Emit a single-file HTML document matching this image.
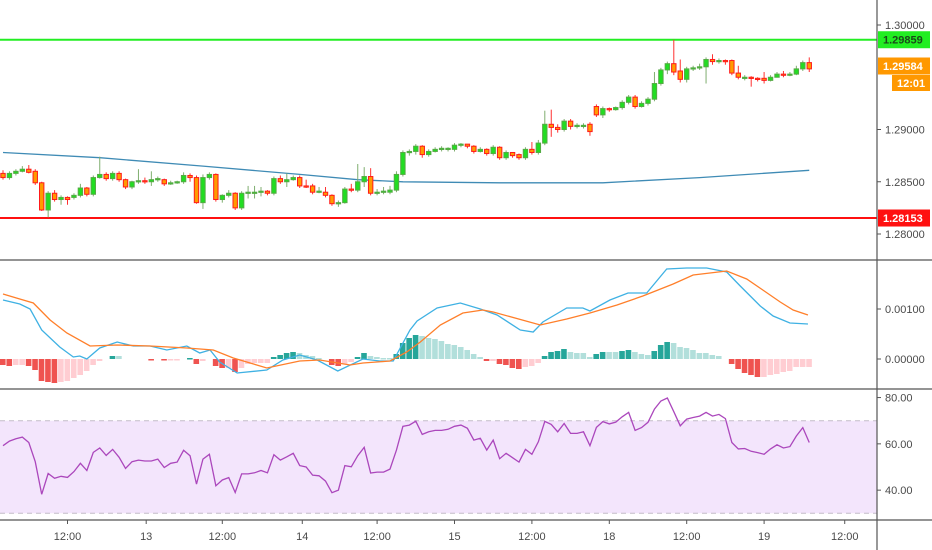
<!DOCTYPE html>
<html><head><meta charset="utf-8"><style>
html,body{margin:0;padding:0;background:#fff;}
svg{display:block;font-family:"Liberation Sans",sans-serif;}
</style></head><body>
<svg id="chart" width="932" height="550" viewBox="0 0 932 550" xmlns="http://www.w3.org/2000/svg">
<defs><clipPath id="plotclip"><rect x="0" y="0" width="877" height="520"/></clipPath></defs>
<g id="plot" clip-path="url(#plotclip)"></g>
<g id="axes"></g>
</svg>
<script>
// ---- price data (hourly candles) ----
const opens = [1.2858,1.2854,1.2858,1.2860,1.2862,1.2860,1.2849,1.2823,1.2839,1.2833,1.2835,1.2835,1.2837,1.2844,1.2838,1.2854,1.2857,1.2853,1.2858,1.2852,1.2845,1.2850,1.2851,1.2850,1.2852,1.2852,1.2848,1.2849,1.2850,1.2856,1.2854,1.2830,1.2854,1.2857,1.2833,1.2837,1.2839,1.2825,1.2839,1.2839,1.2840,1.2841,1.2839,1.2853,1.2850,1.2852,1.2854,1.2846,1.2846,1.2840,1.2840,1.2837,1.2829,1.2830,1.2843,1.2842,1.2850,1.2855,1.2839,1.2840,1.2840,1.2842,1.2857,1.2878,1.2879,1.2884,1.2876,1.2879,1.2881,1.2881,1.2881,1.2885,1.2886,1.2884,1.2879,1.2881,1.2877,1.2883,1.2873,1.2878,1.2876,1.2873,1.2881,1.2878,1.2887,1.2905,1.2902,1.2900,1.2908,1.2903,1.2903,1.2905,1.2922,1.2914,1.2920,1.2919,1.2921,1.2926,1.2931,1.2922,1.2925,1.2929,1.2944,1.2957,1.2963,1.2956,1.2948,1.2958,1.2959,1.2960,1.2967,1.2965,1.2966,1.2966,1.2954,1.2949,1.2950,1.2949,1.2949,1.2947,1.2950,1.2953,1.2952,1.2953,1.2958,1.2964];
const closes = [1.2854,1.2858,1.2860,1.2862,1.2859,1.2849,1.2823,1.2839,1.2833,1.2835,1.2833,1.2837,1.2844,1.2838,1.2854,1.2857,1.2853,1.2858,1.2852,1.2845,1.2850,1.2851,1.2850,1.2852,1.2853,1.2848,1.2849,1.2850,1.2856,1.2854,1.2830,1.2854,1.2857,1.2833,1.2837,1.2839,1.2825,1.2839,1.2840,1.2840,1.2841,1.2839,1.2853,1.2850,1.2852,1.2854,1.2846,1.2845,1.2840,1.2841,1.2837,1.2829,1.2830,1.2843,1.2842,1.2850,1.2855,1.2839,1.2840,1.2841,1.2842,1.2857,1.2878,1.2879,1.2884,1.2876,1.2879,1.2881,1.2882,1.2882,1.2885,1.2886,1.2884,1.2879,1.2881,1.2877,1.2883,1.2873,1.2878,1.2875,1.2873,1.2881,1.2878,1.2887,1.2905,1.2902,1.2900,1.2908,1.2903,1.2904,1.2904,1.2898,1.2914,1.2920,1.2919,1.2921,1.2926,1.2931,1.2922,1.2925,1.2929,1.2944,1.2957,1.2963,1.2955,1.2948,1.2958,1.2959,1.2960,1.2967,1.2965,1.2966,1.2965,1.2954,1.2950,1.2950,1.2949,1.2948,1.2947,1.2950,1.2953,1.2952,1.2953,1.2958,1.2964,1.2958];
const highs = [1.2861,1.2860,1.2862,1.2865,1.2866,1.2862,1.2850,1.2841,1.2842,1.2837,1.2836,1.2839,1.2848,1.2845,1.2856,1.2874,1.2859,1.2860,1.2860,1.2853,1.2851,1.2862,1.2854,1.2860,1.2855,1.2853,1.2851,1.2851,1.2859,1.2858,1.2856,1.2857,1.2859,1.2858,1.2838,1.2842,1.2840,1.2841,1.2846,1.2846,1.2845,1.2842,1.2855,1.2856,1.2858,1.2856,1.2856,1.2852,1.2848,1.2845,1.2845,1.2838,1.2832,1.2845,1.2848,1.2867,1.2864,1.2863,1.2843,1.2845,1.2846,1.2860,1.2880,1.2881,1.2886,1.2885,1.2881,1.2883,1.2884,1.2883,1.2887,1.2887,1.2886,1.2885,1.2883,1.2882,1.2885,1.2884,1.2880,1.2878,1.2877,1.2883,1.2888,1.2890,1.2918,1.2919,1.2905,1.2910,1.2910,1.2906,1.2906,1.2907,1.2924,1.2922,1.2921,1.2922,1.2928,1.2933,1.2933,1.2927,1.2931,1.2955,1.2959,1.2965,1.2986,1.2967,1.2960,1.2961,1.2963,1.2969,1.2972,1.2968,1.2967,1.2967,1.2961,1.2952,1.2951,1.2950,1.2955,1.2952,1.2955,1.2956,1.2955,1.2961,1.2966,1.2969];
const lows = [1.2852,1.2852,1.2856,1.2859,1.2858,1.2847,1.2822,1.2816,1.2831,1.2828,1.2828,1.2833,1.2835,1.2836,1.2836,1.2853,1.2851,1.2851,1.2850,1.2843,1.2843,1.2848,1.2848,1.2846,1.2850,1.2846,1.2847,1.2848,1.2848,1.2850,1.2829,1.2824,1.2852,1.2831,1.2830,1.2835,1.2823,1.2823,1.2834,1.2834,1.2836,1.2837,1.2837,1.2848,1.2845,1.2851,1.2844,1.2844,1.2838,1.2839,1.2835,1.2827,1.2826,1.2829,1.2840,1.2840,1.2845,1.2837,1.2837,1.2838,1.2838,1.2840,1.2855,1.2875,1.2876,1.2873,1.2874,1.2878,1.2879,1.2879,1.2879,1.2883,1.2882,1.2877,1.2878,1.2875,1.2875,1.2871,1.2871,1.2873,1.2871,1.2871,1.2876,1.2876,1.2885,1.2893,1.2897,1.2898,1.2900,1.2901,1.2901,1.2894,1.2912,1.2911,1.2917,1.2918,1.2919,1.2924,1.2920,1.2921,1.2923,1.2927,1.2942,1.2953,1.2952,1.2945,1.2945,1.2956,1.2957,1.2944,1.2962,1.2963,1.2962,1.2952,1.2948,1.2947,1.2941,1.2946,1.2944,1.2946,1.2950,1.2950,1.2951,1.2952,1.2956,1.2955];
// moving average samples (candle index, value)
const maIdx = [0,15,31,46,55,62,77,93,108,125];
const maVals = [1.2878,1.2873,1.2865,1.2857,1.2852,1.2850,1.2849,1.2849,1.2854,1.2861];
const resistanceLevel = 1.29859;
const supportLevel = 1.28153;
const lastPrice = 1.29584;
const priceTicks = [1.30, 1.29, 1.285, 1.28];
const priceTickLabels = ["1.30000","1.29000","1.28500","1.28000"];
// ---- MACD ----
const macdHist = [-0.00012,-0.00014,-0.00012,-0.00012,-0.00014,-0.00022,-0.00044,-0.00046,-0.00048,-0.00046,-0.00044,-0.00038,-0.00032,-0.00024,-0.00012,-0.00004,0,0.00006,0.00006,0,0,0,0,-0.00002,0,-0.00002,-0.00002,-0.00002,0,0.00002,-0.0001,-0.00004,0,-0.00014,-0.00018,-0.00018,-0.00026,-0.00018,-0.0001,-0.00008,-0.00008,-0.00008,0.00004,0.00008,0.00012,0.00014,0.00012,0.00008,0.00006,0.00002,0,-0.00012,-0.00014,-0.0001,-0.00006,0.00004,0.00012,0.00006,0.00004,0.00002,0.00002,0.0001,0.00032,0.00042,0.00048,0.00046,0.00042,0.0004,0.00036,0.0003,0.00028,0.00024,0.00018,0.0001,0.00004,-0.00004,-0.00004,-0.0001,-0.00012,-0.00018,-0.0002,-0.00016,-0.00014,-0.00008,0.00006,0.00014,0.00016,0.0002,0.00014,0.00012,0.00012,0.00004,0.0001,0.00014,0.00014,0.00014,0.00016,0.00018,0.00014,0.0001,0.00008,0.00016,0.00028,0.00034,0.00032,0.00024,0.00022,0.00018,0.00012,0.00012,0.00008,0.00006,0,-0.0001,-0.0002,-0.00028,-0.00032,-0.00036,-0.00036,-0.00032,-0.0003,-0.00026,-0.00024,-0.00016,-0.00016,-0.00016];
const macdIdx = [0,2.6,4.2,6,8.8,10.9,11.9,13,15,17.7,20.2,22.8,25.4,28.5,30.5,32.1,33.6,36.3,40.9,43.4,46,48.7,51.9,55.8,58.4,60.5,63.1,64.2,67.3,70.9,74,76.6,80.2,82.2,83.7,87.4,89.9,91,94.1,96.9,99.8,102.9,106,109.1,112.2,114.3,117.4,119.4,122,124.8];
const macdVals = [0.00118,0.0011,0.001,0.00058,0.00024,0.00004,0.00006,0,0.00022,0.00034,0.00026,0.00026,0.00018,0.00026,0.00012,0.00018,-0.00006,-0.00028,-0.00022,-0.00002,0.00008,-0.00002,-0.00024,0,-0.00004,-0.00004,0.00058,0.00076,0.00102,0.00112,0.001,0.00088,0.00058,0.00054,0.00074,0.00102,0.00102,0.00096,0.00118,0.00132,0.00132,0.0018,0.00182,0.00182,0.00174,0.00146,0.00106,0.00086,0.00072,0.0007];
const signalIdx = [0,2.6,4.7,7.3,9.9,13.5,17.7,22.8,28.5,32.6,35.7,40.9,46,49.1,53.8,55.8,60,62.6,64.7,67.8,71.3,74.4,76,83.3,87.4,91,95.2,99.2,103.9,107,112.2,115.3,117.8,120.5,122.5,124.8];
const signalVals = [0.0013,0.0012,0.00112,0.00078,0.00052,0.00026,0.00028,0.00026,0.00022,0.00018,0.00002,-0.00018,-0.00004,-0.00002,-0.00012,-0.00008,-0.00004,0.00014,0.00034,0.00068,0.00092,0.00098,0.00094,0.00068,0.0008,0.00092,0.00108,0.00126,0.0015,0.00168,0.00176,0.0016,0.00138,0.00114,0.00098,0.00088];
const macdTicks = [0.001, 0];
const macdTickLabels = ["0.00100","0.00000"];
// ---- RSI ----
const rsiVals = [59.2,61.2,62.2,62.9,60.6,52.3,38.2,47.2,45.1,46.0,45.5,48.0,51.6,48.5,56.3,58.2,55.0,57.6,54.2,49.4,52.3,53.0,52.6,52.6,53.4,49.8,51.6,52.1,57.2,54.9,42.6,53.4,55.5,41.9,44.4,45.4,39.0,47.0,47.0,47.5,48.5,47.5,55.3,53.0,54.4,55.9,50.6,50.0,46.5,46.2,43.9,38.9,40.0,50.6,50.1,54.9,58.5,47.4,47.8,47.8,49.1,57.3,67.6,68.1,69.8,64.1,65.2,65.8,65.8,66.3,67.6,68.1,66.7,61.6,62.4,57.3,61.6,53.6,55.9,54.0,52.1,57.6,55.5,60.9,69.7,68.4,65.2,68.8,64.5,64.5,65.2,59.2,67.1,69.6,68.6,69.4,71.7,73.6,65.8,67.0,69.3,75.0,78.5,79.8,73.9,67.8,70.7,71.4,72.0,73.6,72.0,72.7,70.9,60.6,57.8,58.0,56.8,56.2,55.5,57.8,59.6,58.2,58.8,63.4,67.0,60.6];
const rsiTicks = [80, 60, 40];
const rsiTickLabels = ["80.00","60.00","40.00"];
const rsiBand = [70, 30];
// ---- time axis ----
const timeLabels = ["12:00","13","12:00","14","12:00","15","12:00","18","12:00","19","12:00"];
const timeLabelIdx = [10,22.2,34,46.4,58,70,82,94,106,118,130.5];

// ---- axis functions ----
const xOf = i => 3 + i * 6.45;
const yPrice = p => 25 + (1.30 - p) * 10450;
const yMacd = v => 359 - v * 50000;
const yRsi = v => 420.7 + (70 - v) * 2.315;

const NS = "http://www.w3.org/2000/svg";
const plot = document.getElementById('plot');
const axes = document.getElementById('axes');
function mk(tag, attrs, parent) {
  const el = document.createElementNS(NS, tag);
  for (const k in attrs) el.setAttribute(k, attrs[k]);
  parent.appendChild(el);
  return el;
}

// RSI band background
const bandY1 = yRsi(rsiBand[0]), bandY2 = yRsi(rsiBand[1]);
let band = mk('rect', {x:0, y:bandY1, width:877, height:bandY2-bandY1, fill:'#f3e5fc'}, plot);


rsiBand.forEach(v => {
  let l = mk('line', {x1:0, x2:877, y1:yRsi(v), y2:yRsi(v), stroke:'#c4bcc8', 'stroke-width':1, 'stroke-dasharray':'5,4'}, plot);
  
  
});

// MA line
let maPts = maIdx.map((i, k) => xOf(i) + ',' + yPrice(maVals[k]).toFixed(1)).join(' ');
let ma = mk('polyline', {points: maPts, fill:'none', stroke:'#3f8bb5', 'stroke-width':1.3}, plot);



// level lines
let res = mk('line', {x1:0, x2:877, y1:yPrice(resistanceLevel), y2:yPrice(resistanceLevel), stroke:'#22ee22', 'stroke-width':2}, plot);


let sup = mk('line', {x1:0, x2:877, y1:yPrice(supportLevel), y2:yPrice(supportLevel), stroke:'#ff1010', 'stroke-width':2}, plot);



// candles
for (let i = 0; i < closes.length; i++) {
  const up = closes[i] >= opens[i];
  const x = xOf(i);
  const g = mk('g', {}, plot);
  
  
  mk('line', {x1:x, x2:x, y1:yPrice(highs[i]), y2:yPrice(lows[i]), stroke: up ? '#7fae6f' : '#ff3030', 'stroke-width':1}, g);
  const yt = yPrice(Math.max(opens[i], closes[i]));
  const yb = yPrice(Math.min(opens[i], closes[i]));
  mk('rect', {x:x-2.2, y:yt, width:4.4, height:Math.max(1.2, yb-yt), fill: up ? '#22dd22' : '#ff9a00', stroke: up ? '#55aa44' : '#ff1a1a', 'stroke-width':1}, g);
}

// MACD histogram
for (let i = 0; i < macdHist.length; i++) {
  const v = macdHist[i], prev = i > 0 ? macdHist[i-1] : 0;
  if (v === 0) continue;
  let col;
  if (v > 0) col = v > prev ? '#26a69a' : '#b2dfdb';
  else col = v < prev ? '#ef5350' : '#ffcdd2';
  const y0 = yMacd(0), y1 = yMacd(v);
  const r = mk('rect', {x:xOf(i)-3, y:Math.min(y0,y1), width:5.6, height:Math.max(1.5, Math.abs(y1-y0)), fill:col}, plot);
  
  
}
let macdLine = mk('polyline', {points: macdIdx.map((i,k)=>xOf(i)+','+yMacd(macdVals[k]).toFixed(1)).join(' '), fill:'none', stroke:'#3fb1e3', 'stroke-width':1.3}, plot);


let sigLine = mk('polyline', {points: signalIdx.map((i,k)=>xOf(i)+','+yMacd(signalVals[k]).toFixed(1)).join(' '), fill:'none', stroke:'#ff7f2a', 'stroke-width':1.3}, plot);



// RSI line
let rsiLine = mk('polyline', {points: rsiVals.map((v,i)=>xOf(i)+','+yRsi(v).toFixed(1)).join(' '), fill:'none', stroke:'#ab47bc', 'stroke-width':1.3}, plot);



// separators & axis
[[0,260,932,260],[0,389,932,389],[0,520,932,520],[877,0,877,550]].forEach(s => {
  let l = mk('line', {x1:s[0], y1:s[1], x2:s[2], y2:s[3], stroke:'#555', 'stroke-width':1.2}, axes);
  
  
});

function yLabel(text, y, name) {
  mk('line', {x1:877, x2:881, y1:y, y2:y, stroke:'#555', 'stroke-width':1}, axes);
  const t = mk('text', {x:885, y:y+4, 'font-size':11, fill:'#4a4a4a'}, axes);
  t.textContent = text;
  
  
}
priceTicks.forEach((p,k) => yLabel(priceTickLabels[k], yPrice(p), 'price-tick-label'));
macdTicks.forEach((v,k) => yLabel(macdTickLabels[k], yMacd(v), 'macd-tick-label'));
rsiTicks.forEach((v,k) => yLabel(rsiTickLabels[k], yRsi(v), 'rsi-tick-label'));

timeLabels.forEach((s,k) => {
  const x = xOf(timeLabelIdx[k]);
  if (x > 870) return;
  mk('line', {x1:x, x2:x, y1:520, y2:524, stroke:'#555', 'stroke-width':1}, axes);
  const t = mk('text', {x:x, y:540, 'font-size':11, fill:'#4a4a4a', 'text-anchor':'middle'}, axes);
  t.textContent = s;
  
  
});

function tag(text, y, h, x0, bg, fg, name) {
  const g = mk('g', {}, axes);
  
  
  mk('rect', {x:x0, y:y-h/2, width:932-x0-2, height:h, fill:bg}, g);
  const t = mk('text', {x:x0+5, y:y+4, 'font-size':11, fill:fg, 'font-weight':'bold'}, g);
  t.textContent = text;
}
tag(resistanceLevel.toFixed(5), yPrice(resistanceLevel), 17, 878, '#22ee22', '#1a4a1a', 'resistance-price-tag');
tag(lastPrice.toFixed(5), 66, 17, 878, '#ff9800', '#ffffff', 'last-price-tag');
tag('12:01', 83, 16, 892, '#ff9800', '#ffffff', 'countdown-tag');
tag(supportLevel.toFixed(5), yPrice(supportLevel), 17, 878, '#ff1010', '#ffffff', 'support-price-tag');
</script>
</body></html>
